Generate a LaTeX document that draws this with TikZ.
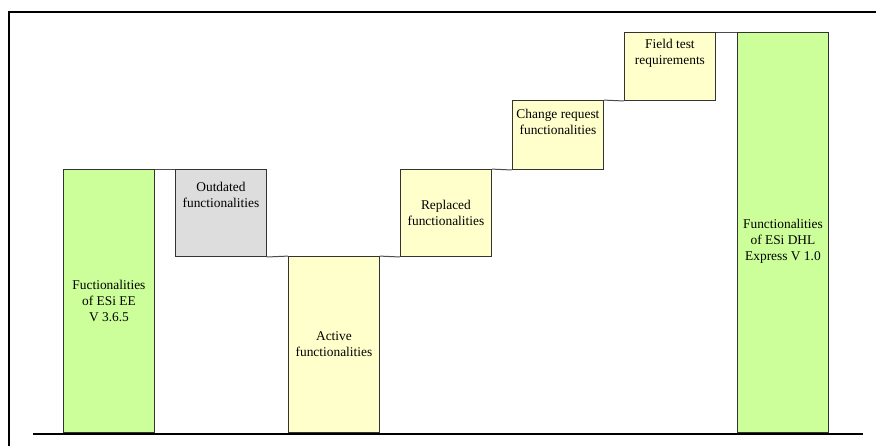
\documentclass[tikz,border=0pt]{standalone}
\usepackage{fontspec}
\setmainfont{Liberation Serif}
\definecolor{barGreen}{RGB}{204,255,153}
\definecolor{barYellow}{RGB}{255,255,204}
\definecolor{barGray}{RGB}{221,221,221}
\begin{document}
\begin{tikzpicture}[x=1pt,y=1pt,
    bar/.style={draw=black!80, line width=0.9pt, inner sep=0pt, minimum width=91pt, anchor=south west},
    boxtext/.style={font=\fontsize{13.4}{16}\selectfont, align=center, inner sep=0pt},
    stepline/.style={draw=black!70, line width=1pt}]
    \useasboundingbox (0,0) rectangle (876,446);

    % frame
    \draw [line width=2.8pt] (9,0) -- (9,434) -- (876,434);

    \node [bar, fill=barGreen, minimum height=263pt] (old) at (63,13) {};
    \node [bar, fill=barGray, minimum height=87pt] (outdated) at (175,189) {};
    \node [bar, fill=barYellow, minimum height=176pt] (active) at (288,13) {};
    \node [bar, fill=barYellow, minimum height=87pt] (replaced) at (400,189) {};
    \node [bar, fill=barYellow, minimum height=69pt] (change) at (512,276) {};
    \node [bar, fill=barYellow, minimum height=68pt] (field) at (624,345) {};
    \node [bar, fill=barGreen, minimum height=400pt] (new) at (737,13) {};

    \draw [stepline] (old.north east) -- (outdated.north west);
    \draw [stepline] (outdated.south east) -- (active.north west);
    \draw [stepline] (active.north east) -- (replaced.south west);
    \draw [stepline] (replaced.north east) -- (change.south west);
    \draw [stepline] (change.north east) -- (field.south west);
    \draw [stepline] (field.north east) -- (new.north west);

    \node [boxtext] (oldtext) at (old.center) {Fuctionalities\\of ESi EE\\V 3.6.5};
    \node [boxtext, anchor=north] (outdatedtext) at ([yshift=-13pt]outdated.north) {Outdated\\functionalities};
    \node [boxtext] (activetext) at (active.center) {Active\\functionalities};
    \node [boxtext] (replacedtext) at (replaced.center) {Replaced\\functionalities};
    \node [boxtext, anchor=north] (changetext) at ([yshift=-9pt]change.north) {Change request\\functionalities};
    \node [boxtext, anchor=north] (fieldtext) at ([yshift=-6.5pt]field.north) {Field test\\requirements};
    \node [boxtext] (newtext) at ([yshift=-9pt]new.center) {Functionalities\\of ESi DHL\\Express V 1.0};

    % base line
    \draw [line width=2.8pt] (33,12) -- (863,12);
\end{tikzpicture}
\end{document}
